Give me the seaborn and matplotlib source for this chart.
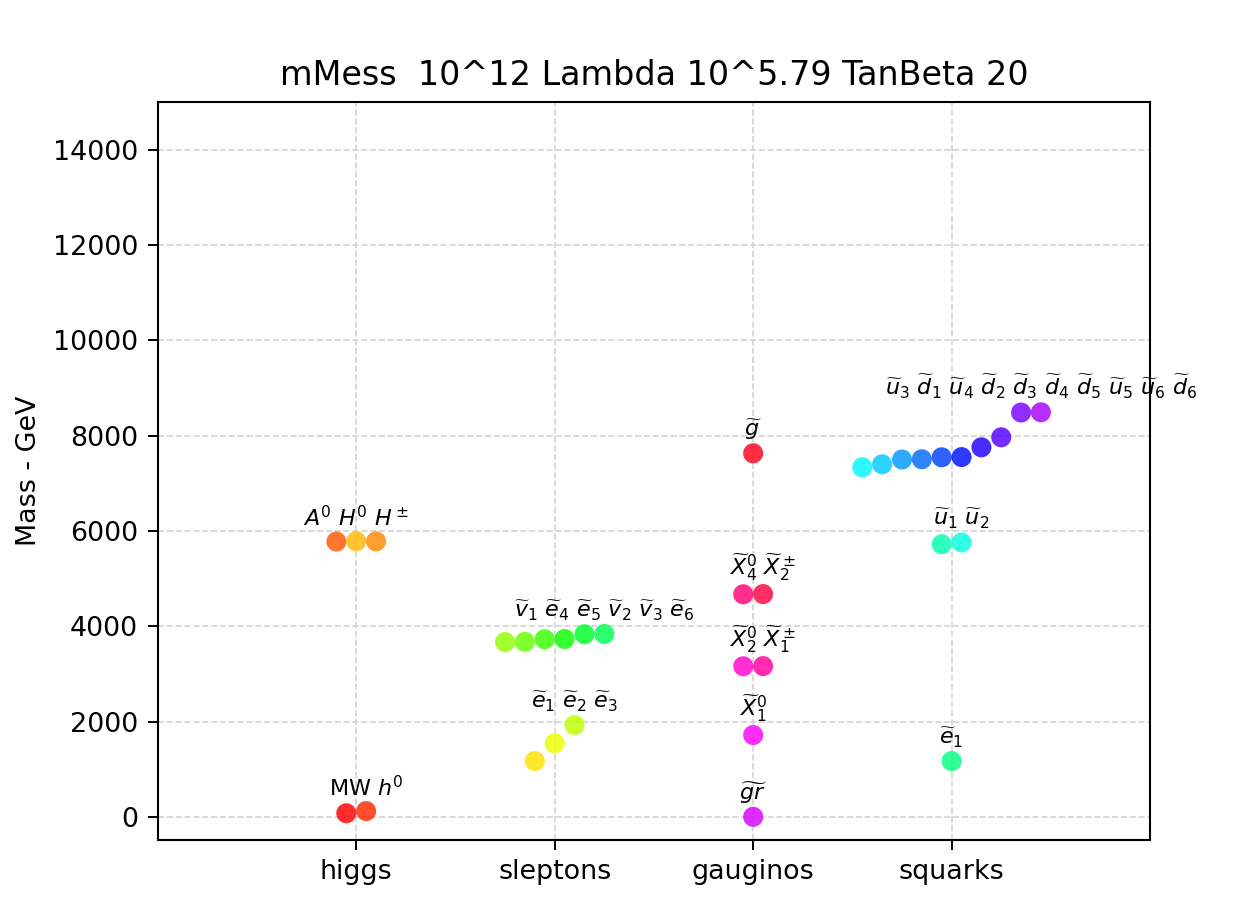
import numpy as np
import pandas as pd
import matplotlib
matplotlib.use("Agg")
import matplotlib.pyplot as plt
import seaborn as sns

sns.set_style("ticks")
plt.rcParams["font.family"] = ["DejaVu Sans"]
plt.rcParams["mathtext.fontset"] = "dejavusans"
plt.rcParams["text.color"] = "black"
plt.rcParams["axes.labelcolor"] = "black"
plt.rcParams["xtick.color"] = "black"
plt.rcParams["ytick.color"] = "black"

# categorias no eixo x
categories = ["higgs", "sleptons", "gauginos", "squarks"]
# ordem usada para o mapa de cores (hsv)
color_order = ["higgs", "sleptons", "squarks", "gauginos"]

# cada grupo: lista de clusters (rótulos, massas em GeV)
higgs_labels = [["MW", "$h^0$"], ["$A^0$", "$H^0$", "$H^\\pm$"]]
higgs_mass = [[80, 125], [5778, 5786, 5783]]

sleptons_labels = [
    ["$\\widetilde{e}_1$", "$\\widetilde{e}_2$", "$\\widetilde{e}_3$"],
    ["$\\widetilde{v}_1$", "$\\widetilde{e}_4$", "$\\widetilde{e}_5$", "$\\widetilde{v}_2$",
     "$\\widetilde{v}_3$", "$\\widetilde{e}_6$"],
]
sleptons_mass = [[1175, 1550, 1930], [3670, 3675, 3730, 3735, 3835, 3840]]

gauginos_labels = [
    ["$\\widetilde{gr}$"],
    ["$\\widetilde{X}_1^0$"],
    ["$\\widetilde{X}_2^0$", "$\\widetilde{X}_1^\\pm$"],
    ["$\\widetilde{X}_4^0$", "$\\widetilde{X}_2^\\pm$"],
    ["$\\widetilde{g}$"],
]
gauginos_mass = [[5], [1720], [3163, 3166], [4673, 4677], [7630]]

squarks_labels = [
    ["$\\widetilde{e}_1$"],
    ["$\\widetilde{u}_1$", "$\\widetilde{u}_2$"],
    ["$\\widetilde{u}_3$", "$\\widetilde{d}_1$", "$\\widetilde{u}_4$", "$\\widetilde{d}_2$",
     "$\\widetilde{d}_3$", "$\\widetilde{d}_4$", "$\\widetilde{d}_5$", "$\\widetilde{u}_5$",
     "$\\widetilde{u}_6$", "$\\widetilde{d}_6$"],
]
squarks_mass = [[1175], [5722, 5760],
                [7336, 7399, 7500, 7505, 7546, 7550, 7755, 7965, 8485, 8490]]

title = "mMess  10^12 Lambda 10^5.79 TanBeta 20"

groups = {
    "higgs": (higgs_labels, higgs_mass),
    "sleptons": (sleptons_labels, sleptons_mass),
    "gauginos": (gauginos_labels, gauginos_mass),
    "squarks": (squarks_labels, squarks_mass),
}

# ---------------------------
# montar o DataFrame
# ---------------------------
rows = []
for gi, cat in enumerate(categories):
    labs, masses = groups[cat]
    for ci, (cl_lab, cl_m) in enumerate(zip(labs, masses)):
        n = len(cl_m)
        for j, (lab, m) in enumerate(zip(cl_lab, cl_m)):
            rows.append({
                "cat": cat, "cluster": f"{cat}_{ci}", "label": lab, "mass": m,
                "x": gi + 1 + (j - (n - 1) / 2) * 0.1,
            })
df = pd.DataFrame(rows)
df["pid"] = df["cluster"] + "_" + df.index.astype(str)

# cores: hsv ao longo de todas as partículas, ordenadas por massa em cada grupo
df["corder"] = df["cat"].map({c: i for i, c in enumerate(color_order)})
ordered = df.sort_values(["corder", "mass"], kind="stable")
cmap = plt.get_cmap("hsv")
palette = {pid: cmap(i / (len(ordered) - 1)) for i, pid in enumerate(ordered["pid"])}

# ---------------------------
# gráfico
# ---------------------------
fig = plt.figure(figsize=(6.21, 4.55), dpi=200)
ax = fig.add_axes([0.127, 0.077, 0.799, 0.811])

sns.scatterplot(data=df, x="x", y="mass", hue="pid", palette=palette, legend=False,
                s=52, linewidth=0, alpha=0.82, ax=ax, zorder=3)

for cl, sub in df.groupby("cluster", sort=False):
    top = sub.loc[sub["mass"].idxmax()]
    ax.annotate(" ".join(sub["label"]), (top["x"], sub["mass"].max()),
                xytext=(0, 4), textcoords="offset points",
                ha="center", va="bottom", fontsize=8, annotation_clip=False)

ax.set_xlim(0, 5)
ax.set_ylim(-480, 15000)
ax.set_xticks(range(1, len(categories) + 1))
ax.set_xticklabels(categories)
ax.set_yticks(range(0, 14001, 2000))
ax.grid(True, linestyle="--", color="#d3d3d3", linewidth=0.6)
ax.set_axisbelow(True)
ax.tick_params(labelsize=9.7, length=3.5, width=0.7, color="black")
for sp in ax.spines.values():
    sp.set_color("black")
    sp.set_linewidth(0.75)

ax.set_xlabel("")
ax.set_ylabel("Mass - GeV", fontsize=9.7)
ax.set_title(title, fontsize=12)

fig.savefig("out.png", dpi=200)
